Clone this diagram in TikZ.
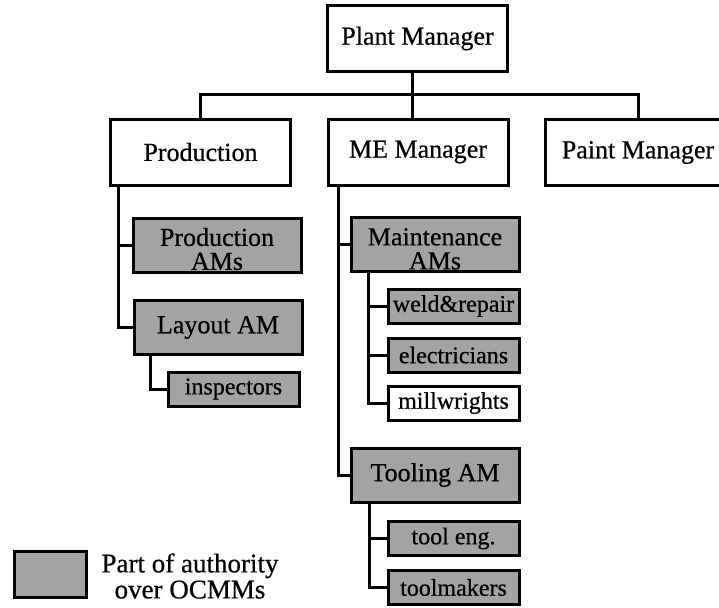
\documentclass[tikz,border=0pt]{standalone}
\usepackage{fontspec}
\setmainfont{Liberation Serif}[FakeBold=0.6]
\colorlet{authgray}{black!36}
\begin{document}
\begin{tikzpicture}[x=1pt,y=-1pt,
  box/.style={draw, line width=3pt, inner sep=0pt, align=center},
  mgr/.style={box, minimum width=180pt, minimum height=66pt, font=\fontsize{26}{24}\selectfont},
  am/.style={box, fill=authgray, minimum width=168pt, minimum height=54pt, font=\fontsize{26}{24}\selectfont},
  crew/.style={box, minimum width=131pt, minimum height=34pt, font=\fontsize{24}{24}\selectfont},
  auth/.style={fill=authgray},
  conn/.style={line width=3pt}]
\useasboundingbox (0,0) rectangle (719,607);
\clip (0,0) rectangle (719,607);

% management level
\node[mgr] (plant) at (417.5,38.5) {Plant Manager};
\node[mgr] (prod) at (200.5,152) {Production};
\node[mgr] (me) at (418,152) {ME Manager};
\node[mgr, minimum width=186pt] (paint) at (638,152.5) {Paint Manager};

% production branch
\node[am] (prodam) at (217,245) {\rule{0pt}{26pt}Production\\AMs};
\node[am] (layout) at (218,327.5) {Layout AM};
\node[crew, auth] (insp) at (233.5,389) {inspectors};

% maintenance engineering branch
\node[am] (maint) at (435,244.5) {\rule{0pt}{26pt}Maintenance\\AMs};
\node[crew, auth] (weld) at (453.5,306) {weld\&repair};
\node[crew, auth] (elec) at (453.5,355) {electricians};
\node[crew] (mill) at (453.5,403) {millwrights};
\node[am] (tooling) at (435,475) {Tooling AM};
\node[crew, auth] (tooleng) at (453.5,538.5) {tool eng.};
\node[crew, auth] (toolmk) at (453.5,587.5) {toolmakers};

% key
\node[box, auth, minimum width=72pt, minimum height=46pt] (key) at (50,574) {};
\node[font=\fontsize{27}{26}\selectfont, align=center] (keytext) at (190,576) {Part of authority\\over OCMMs};

% connectors
\coordinate (bar) at (412,95);
\draw[conn] (prod.north) |- (bar) -| (paint.north);
\draw[conn] (plant.south -| bar) -- (me.north -| bar);

\coordinate (pstem) at (118,186);
\draw[conn] (pstem) |- (layout.west);
\draw[conn] (pstem |- prodam.west) -- (prodam.west);
\coordinate (lstem) at (150,356);
\draw[conn] (lstem) |- (insp.west);

\coordinate (mstem) at (338,186);
\draw[conn] (mstem) |- (tooling.west);
\draw[conn] (mstem |- maint.west) -- (maint.west);
\coordinate (astem) at (368,273);
\draw[conn] (astem) |- (mill.west);
\draw[conn] (astem |- weld.west) -- (weld.west);
\draw[conn] (astem |- elec.west) -- (elec.west);
\coordinate (tstem) at (369,503);
\draw[conn] (tstem) |- (toolmk.west);
\draw[conn] (tstem |- tooleng.west) -- (tooleng.west);
\end{tikzpicture}
\end{document}
